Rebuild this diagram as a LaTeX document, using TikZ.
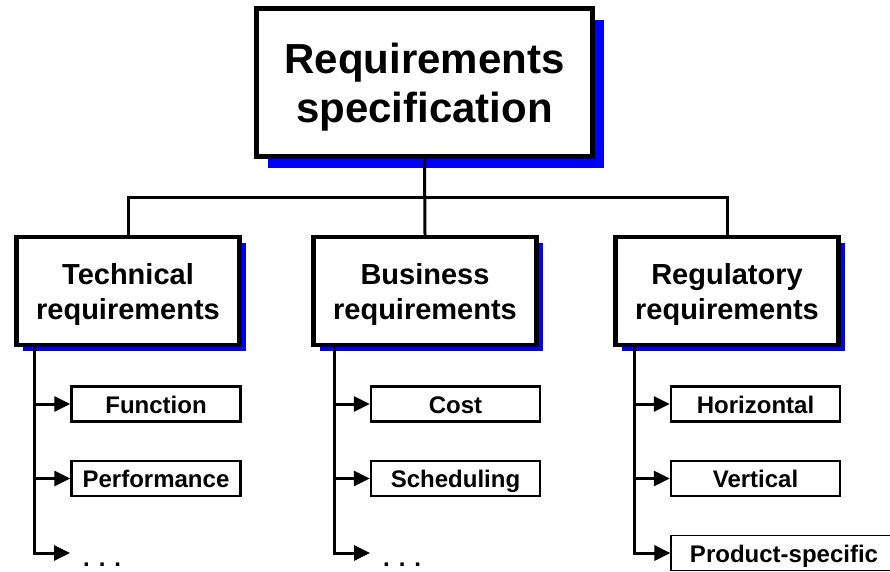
\documentclass[tikz,border=0pt]{standalone}
\usepackage{fontspec}
\setmainfont{Liberation Sans}
\usetikzlibrary{arrows.meta,shadows}
\begin{document}
\begin{tikzpicture}[x=1pt,y=-1pt,>={Triangle[length=16pt,width=15pt]},
  topbox/.style={draw,fill=white,line width=4.5pt,minimum width=336pt,minimum height=148pt,
    align=center,text depth=-1pt,font=\bfseries\fontsize{42}{49}\selectfont,
    drop shadow={shadow xshift=11pt,shadow yshift=-11pt,fill=blue,opacity=1}},
  midbox/.style={draw,fill=white,line width=4.5pt,minimum width=223pt,minimum height=108pt,
    align=center,text depth=-2pt,font=\bfseries\fontsize{29}{35}\selectfont,
    drop shadow={shadow xshift=6pt,shadow yshift=-6pt,fill=blue,opacity=1}},
  leafbox/.style={draw,fill=white,line width=2.5pt,minimum width=169pt,minimum height=35pt,
    inner sep=0pt,text height=18pt,text depth=0pt,font=\bfseries\fontsize{24}{28}\selectfont},
  dots/.style={font=\bfseries\fontsize{24}{28}\selectfont,anchor=base west,inner sep=0pt},
  link/.style={line width=3pt}]
\useasboundingbox (0,0) rectangle (890,571);
\begin{scope}
\clip (0,0) rectangle (890,571);
% top
\node[topbox] (spec) at (424.5,82.5) {Requirements\\specification};
% second level
\node[midbox] (tech) at (128,291) {Technical\\requirements};
\node[midbox] (busi) at (425,291) {Business\\requirements};
\node[midbox] (regu) at (727,291) {Regulatory\\requirements};
\coordinate (bus) at (0,197);
\draw[link] (tech.north) |- (bus -| regu.north) -- (regu.north);
\draw[link] (spec.south) -- (busi.north);
% leaves
\node[leafbox] (func) at (156,404) {Function};
\node[leafbox] (perf) at (156,478.5) {Performance};
\node[dots] (dotsT) at (83,566) {. . .};
\coordinate (endT) at (70,553);
\node[leafbox] (cost) at (455.5,404) {Cost};
\node[leafbox] (sched) at (455.5,478.5) {Scheduling};
\node[dots] (dotsB) at (383,566) {. . .};
\coordinate (endB) at (370,553);
\node[leafbox] (hori) at (755.5,404) {Horizontal};
\node[leafbox] (vert) at (755.5,478.5) {Vertical};
\node[leafbox,line width=1.2pt,minimum width=226pt] (prod) at (784,553) {Product-specific};
% trunks
\draw[link,->] (tech.south west) ++(20,0) |- (func.west);
\draw[link,->] (tech.south west) ++(20,0) |- (perf.west);
\draw[link,->] (tech.south west) ++(20,0) |- (endT);
\draw[link,->] (busi.south west) ++(23,0) |- (cost.west);
\draw[link,->] (busi.south west) ++(23,0) |- (sched.west);
\draw[link,->] (busi.south west) ++(23,0) |- (endB);
\draw[link,->] (regu.south west) ++(21,0) |- (hori.west);
\draw[link,->] (regu.south west) ++(21,0) |- (vert.west);
\draw[link,->] (regu.south west) ++(21,0) |- (prod.west);
\end{scope}
\end{tikzpicture}
\end{document}
